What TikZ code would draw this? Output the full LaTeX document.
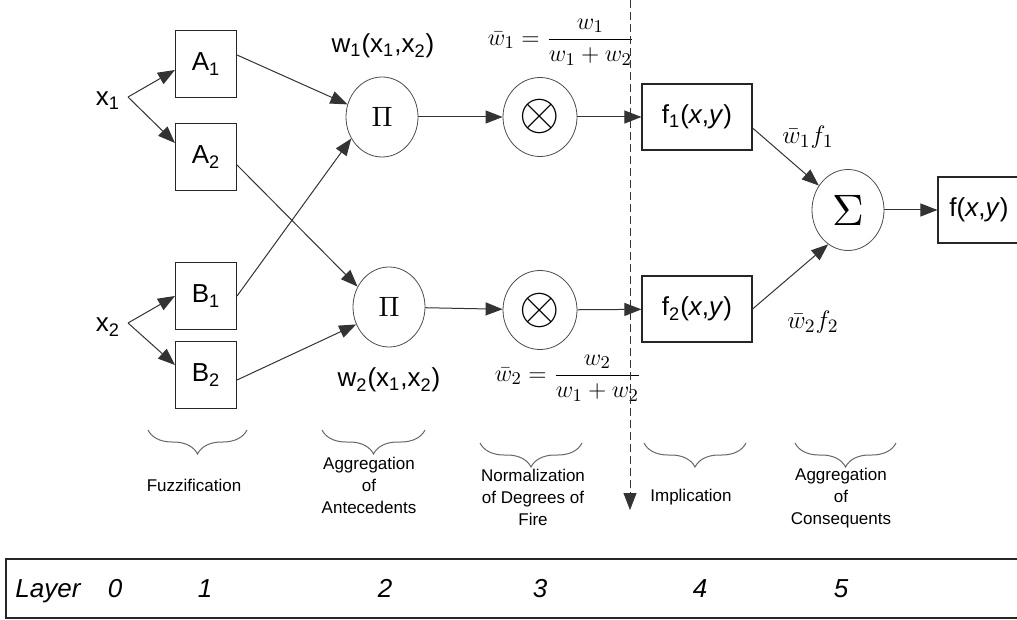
\documentclass[tikz,border=0pt]{standalone}
\usepackage{fontspec}
\setmainfont{Liberation Sans}
\usetikzlibrary{arrows.meta,decorations.pathreplacing,shapes.geometric}

\begin{document}
\begin{tikzpicture}[x=0.5pt,y=-0.5pt,
  box/.style={draw=black!85,line width=0.55pt,minimum width=30.5pt,minimum height=33.5pt,inner sep=0pt,font=\fontsize{13}{15}\selectfont},
  fbox/.style={box,minimum width=55pt,minimum height=33pt},
  op/.style={draw=black!70,ellipse,line width=0.4pt,minimum width=36pt,minimum height=40pt,inner sep=0pt},
  lbl/.style={font=\fontsize{13}{15}\selectfont,inner sep=0pt},
  lnum/.style={font=\fontsize{13}{15}\selectfont\itshape,inner sep=0pt,anchor=base},
  stage/.style={font=\fontsize{8.5}{11}\selectfont,align=center,inner sep=0pt},
  conn/.style={-{Triangle[length=8.5pt,width=6.5pt]},line width=0.5pt,draw=black!80},
  bracket/.style={decorate,decoration={brace,mirror,amplitude=12pt},draw=black!60,line width=0.5pt}]
\useasboundingbox (0,0) rectangle (1017,620);
\clip (0,0) rectangle (1017,620);

% inputs
\node[lbl] (x1) at (108,101) {x\textsubscript{1}};
\node[lbl] (x2) at (108,327) {x\textsubscript{2}};
\coordinate (x1p) at (128,97);
\coordinate (x2p) at (128,323);

% layer 1
\node[box] (A1) at (206,64) {A\textsubscript{1}};
\node[box] (A2) at (206,157) {A\textsubscript{2}};
\node[box] (B1) at (206,296) {B\textsubscript{1}};
\node[box] (B2) at (206,375) {B\textsubscript{2}};

% layer 2
\node[op] (P1) at (382,117) {\scalebox{1.4}{$\Pi$}};
\node[op] (P2) at (389,307) {\scalebox{1.4}{$\Pi$}};
\node[lbl] (w1) at (383,46) {w\textsubscript{1}(x\textsubscript{1},x\textsubscript{2})};
\node[lbl] (w2) at (389,380) {w\textsubscript{2}(x\textsubscript{1},x\textsubscript{2})};

% layer 3
\node[op,minimum width=37pt,minimum height=39.5pt] (N1) at (540,117) {\scalebox{2.6}{$\otimes$}};
\node[op,minimum width=37pt,minimum height=39.5pt] (N2) at (540,310) {\scalebox{2.6}{$\otimes$}};
\node[lbl] (nw1) at (561,42) {$\displaystyle\bar w_1=\frac{w_1}{w_1+w_2}$};
\node[lbl] (nw2) at (568,378) {$\displaystyle\bar w_2=\frac{w_2}{w_1+w_2}$};

% layer 4
\node[fbox] (F1) at (697,117) {f\textsubscript{1}(\textit{x},\textit{y})};
\node[fbox] (F2) at (697,309) {f\textsubscript{2}(\textit{x},\textit{y})};
\node[lbl] (wf1) at (808,137) {\scalebox{1.05}{$\bar w_1 f_1$}};
\node[lbl] (wf2) at (813,322) {\scalebox{1.05}{$\bar w_2 f_2$}};

% layer 5
\node[op,minimum height=40.5pt] (S) at (848,210) {\scalebox{2.2}{$\Sigma$}};
\node[box,minimum width=41pt,minimum height=33pt] (out) at (979,210) {f(\textit{x},\textit{y})};

% connectors
\draw[conn] (x1p) -- ([yshift=-3pt]A1.west);
\draw[conn] (x1p) -- ([yshift=7pt]A2.west);
\draw[conn] (x2p) -- (B1.west);
\draw[conn] (x2p) -- ([yshift=5pt]B2.west);
\draw[conn] ([yshift=4.5pt]A1.east) -- (P1.160);
\draw[conn] ([yshift=-4pt]A2.east) -- (P2.147);
\draw[conn] (B1.east) -- (P1.215);
\draw[conn] ([yshift=-2.5pt]B2.east) -- (P2.208);
\draw[conn] (P1) -- (N1);
\draw[conn] (P2) -- (N2);
\draw[conn] (N1) -- (F1);
\draw[conn] (N2) -- (F2);
\draw[conn] ([yshift=-5.5pt]F1.east) -- (S.140);
\draw[conn] (F2.east) -- (S.240);
\draw[conn] (S) -- (out);

% dashed separator
\coordinate (dtop) at (630,0);
\coordinate (dbot) at (630,510);
\draw[conn,dashed,dash pattern=on 4pt off 2pt,line width=0.4pt] (dtop) -- (dbot);

% stages
\draw[bracket] (148,430) -- (247,430);
\draw[bracket] (322,430) -- (425,430);
\draw[bracket] (480,443) -- (582,443);
\draw[bracket] (644,443) -- (746,443);
\draw[bracket] (795,443) -- (896,443);
\node[stage] (s1) at (194,485) {Fuzzification};
\node[stage] (s2) at (369,485) {Aggregation\\of\\Antecedents};
\node[stage] (s3) at (533,497) {Normalization\\of Degrees of\\Fire};
\node[stage] (s4) at (691,497) {Implication};
\node[stage] (s5) at (841,498) {Aggregation\\of\\Consequents};

% layer row
\draw[line width=1pt,black!85] (1030,559) -- (6,559) -- (6,618) -- (1030,618);
\node[lnum] (ly) at (48,597) {Layer};
\node[lnum] (l0) at (115,597) {0};
\node[lnum] (l1) at (205,597) {1};
\node[lnum] (l2) at (385,597) {2};
\node[lnum] (l3) at (540,597) {3};
\node[lnum] (l4) at (700,597) {4};
\node[lnum] (l5) at (841,597) {5};
\end{tikzpicture}
\end{document}
